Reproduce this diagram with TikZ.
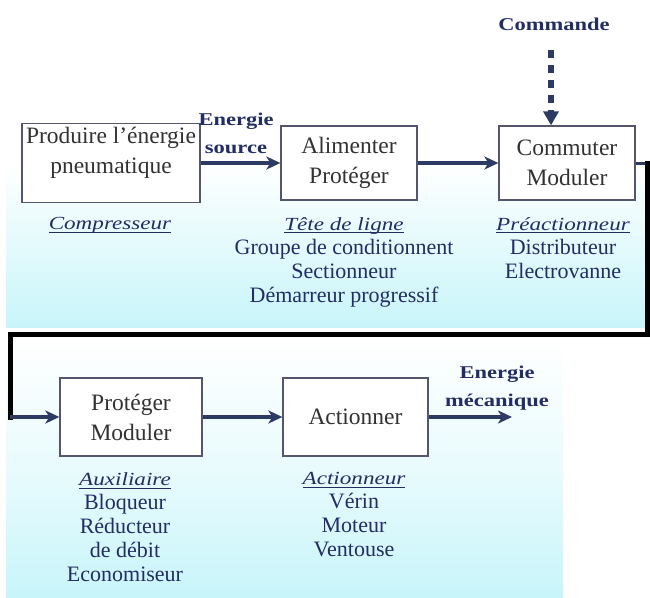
\documentclass[tikz,border=0pt]{standalone}
\usepackage{fontspec}
\setmainfont{Liberation Serif}
\newfontfamily\widefont{Liberation Serif}[FakeStretch=1.25]
\usetikzlibrary{arrows.meta}
\definecolor{navy}{RGB}{35,45,100}
\definecolor{arrowc}{RGB}{45,58,100}
\definecolor{boxc}{RGB}{85,85,110}
\definecolor{txtc}{RGB}{50,50,50}
\definecolor{bgcyan}{RGB}{200,245,250}
\newcommand\myul[1]{\setbox0\hbox{#1}\rlap{\rule[-3pt]{\wd0}{0.9pt}}\box0}
\newcommand\ttl[1]{{\widefont\itshape\fontsize{18.5}{24}\selectfont\myul{#1}}}
\begin{document}
\begin{tikzpicture}[x=1pt,y=-1pt,
  box/.style={draw=boxc, line width=1.3pt, fill=white, inner sep=0pt},
  boxtxt/.style={text=txtc, align=center, font=\fontsize{23.5}{30}\selectfont, inner sep=0pt},
  under/.style={align=center, text=navy, font=\fontsize{22}{24}\selectfont, anchor=north, inner sep=0pt},
  lbl/.style={align=center, text=navy, font=\widefont\bfseries\fontsize{18}{28}\selectfont, inner sep=0pt},
  flow/.style={draw=arrowc, line width=3.5pt, -{Stealth[length=14pt,width=13pt,inset=4pt]}},
  bus/.style={draw=black, line width=5pt, line join=miter, line cap=rect},
  cmdline/.style={draw=arrowc, line width=6pt, dash pattern=on 8pt off 7pt, -{Triangle[length=14pt,width=15pt]}},
]
\useasboundingbox (0,0) rectangle (650,597);
% backgrounds
\shade[top color=white, bottom color=bgcyan, middle color=white] (6,0) rectangle (650,327);
\shade[top color=white, bottom color=bgcyan, middle color=white!60!bgcyan] (6,338) rectangle (563,597);

% boxes
\node[box, minimum width=178pt, minimum height=79pt] (b1) at (111,163) {};
\node[boxtxt] (b1t) at (111,153) {Produire l’énergie\\pneumatique};
\node[box, boxtxt, minimum width=136pt, minimum height=74pt] (b2) at (349,163) {Alimenter\\Protéger};
\node[box, boxtxt, minimum width=136pt, minimum height=74pt] (b3) at (567,163) {Commuter\\Moduler};
\node[box, boxtxt, minimum width=142pt, minimum height=78pt] (b4) at (131,417) {Protéger\\Moduler};
\node[box, boxtxt, minimum width=145pt, minimum height=78pt] (b5) at (355.5,417) {Actionner};

% texts below boxes
\node[under] (u1) at (110,217) {\ttl{Compresseur}};
\node[under] (u2) at (344,217) {\ttl{Tête de ligne}\\Groupe de conditionnent\\Sectionneur\\Démarreur progressif};
\node[under] (u3) at (563,217) {\ttl{Préactionneur}\\Distributeur\\Electrovanne};
\node[under] (u4) at (125,472.5) {\ttl{Auxiliaire}\\Bloqueur\\Réducteur\\de débit\\Economiseur};
\node[under] (u5) at (354,472.5) {\ttl{Actionneur}\\Vérin\\Moteur\\Ventouse};

% labels
\node[lbl, anchor=north] (src) at (236,113) {Energie\\source};
\node[lbl, anchor=base] (cmd) at (554,30) {Commande};
\node[lbl, anchor=north] (mec) at (497,366) {Energie\\mécanique};

% connectors
\coordinate (cmdStart) at (551,50);
\coordinate (c1) at (647.5,163);
\coordinate (c2) at (647.5,334);
\coordinate (c3) at (10,334);
\coordinate (c4) at (10,417);
\coordinate (mecEnd) at (512,417);

\draw[flow] (b1.east) -- (b2.west);
\draw[flow] (b2.east) -- (b3.west);
\draw[cmdline] (cmdStart) -- (cmdStart |- b3.north);
\draw[draw=arrowc, line width=3pt] (b3.east) -- (c1);
\draw[bus] (c1) -- (c2) -- (c3) -- (c4);
\draw[flow] (c4) -- (b4.west);
\draw[flow] (b4.east) -- (b5.west);
\draw[flow] (b5.east) -- (mecEnd);
\end{tikzpicture}
\end{document}
